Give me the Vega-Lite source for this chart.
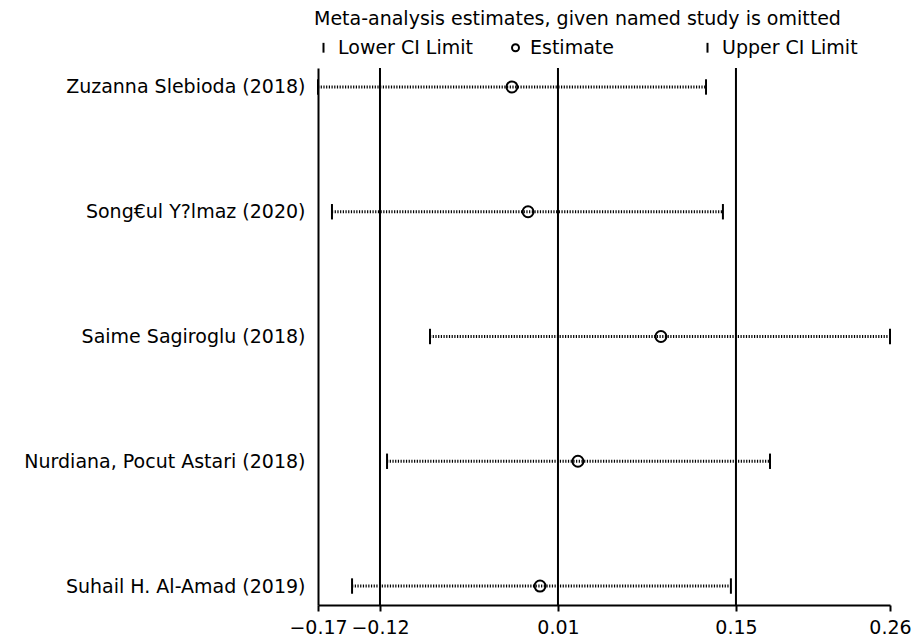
{
  "$schema": "https://vega.github.io/schema/vega-lite/v6.json",
  "width": 572,
  "height": 537,
  "autosize": {"type": "none"},
  "padding": {"left": 318, "top": 68, "right": 34, "bottom": 39},
  "background": "white",
  "config": {
    "font": "DejaVu Sans",
    "view": {"stroke": null}
  },
  "datasets": {
    "ref": [{"v": -0.1214}, {"v": 0.0124}, {"v": 0.1462}],
    "studies": [
      {"study": "Zuzanna  Slebioda (2018)", "lower": -0.168, "estimate": -0.0222, "upper": 0.1237},
      {"study": "Song€ul Y?lmaz (2020)", "lower": -0.1575, "estimate": -0.0101, "upper": 0.1364},
      {"study": "Saime Sagiroglu (2018)", "lower": -0.0838, "estimate": 0.0898, "upper": 0.262},
      {"study": "Nurdiana, Pocut Astari (2018)", "lower": -0.1161, "estimate": 0.0274, "upper": 0.1718},
      {"study": "Suhail H. Al-Amad (2019)", "lower": -0.1424, "estimate": -0.0011, "upper": 0.1424}
    ]
  },
  "layer": [
    {
      "data": {"name": "ref"},
      "mark": {"type": "rule", "color": "black", "strokeWidth": 2},
      "encoding": {
        "x": {"field": "v", "type": "quantitative", "title": null}
      }
    },
    {
      "data": {"name": "studies"},
      "mark": {"type": "rule", "color": "black", "strokeWidth": 3, "strokeDash": [1.2, 1.5]},
      "encoding": {
        "y": {
          "field": "study", "type": "nominal",
          "sort": ["Zuzanna  Slebioda (2018)", "Song€ul Y?lmaz (2020)", "Saime Sagiroglu (2018)", "Nurdiana, Pocut Astari (2018)", "Suhail H. Al-Amad (2019)"],
          "scale": {"type": "point", "padding": 0.152},
          "axis": {
            "title": null, "ticks": false, "domain": true, "domainColor": "black", "domainWidth": 2,
            "labelFontSize": 19, "labelColor": "black", "labelPadding": 13, "labelLimit": 400, "grid": false
          }
        },
        "x": {
          "field": "lower", "type": "quantitative", "title": null,
          "scale": {"domain": [-0.168, 0.262], "nice": false, "zero": false},
          "axis": {
            "title": null, "values": [-0.168, -0.1214, 0.0124, 0.1462, 0.262], "format": ".2f",
            "grid": false, "domainColor": "black", "domainWidth": 2, "tickColor": "black", "tickWidth": 2, "tickSize": 6,
            "labelFontSize": 19, "labelColor": "black", "labelPadding": 7, "labelFlush": false, "labelOverlap": false, "labelBound": false
          }
        },
        "x2": {"field": "upper"}
      }
    },
    {
      "data": {"name": "studies"},
      "transform": [{"fold": ["lower", "estimate", "upper"], "as": ["kind", "value"]}],
      "mark": {"type": "point", "filled": false, "color": "black", "strokeWidth": 2, "size": 121, "opacity": 1},
      "encoding": {
        "x": {"field": "value", "type": "quantitative", "title": null},
        "y": {
          "field": "study", "type": "nominal",
          "sort": ["Zuzanna  Slebioda (2018)", "Song€ul Y?lmaz (2020)", "Saime Sagiroglu (2018)", "Nurdiana, Pocut Astari (2018)", "Suhail H. Al-Amad (2019)"]
        },
        "shape": {
          "field": "kind", "type": "nominal",
          "scale": {"domain": ["lower", "estimate", "upper"], "range": ["M0,-1.4L0,1.4", "circle", "M0,-1.4L0,1.4"]},
          "legend": {
            "title": "Meta-analysis estimates, given named study is omitted",
            "labelExpr": "datum.label == 'lower' ? 'Lower CI Limit' : datum.label == 'estimate' ? 'Estimate' : 'Upper CI Limit'",
            "orient": "none", "legendX": -4, "legendY": -58,
            "direction": "horizontal", "columns": 3, "gridAlign": "all", "columnPadding": 32,
            "symbolSize": 49, "symbolStrokeWidth": 2, "symbolStrokeColor": "black", "symbolFillColor": "transparent",
            "labelFontSize": 19, "labelColor": "black", "labelOffset": 5, "labelLimit": 400,
            "titleFontSize": 19, "titleFontWeight": "normal", "titleColor": "black", "titlePadding": 9, "titleLimit": 700
          }
        }
      }
    }
  ]
}
